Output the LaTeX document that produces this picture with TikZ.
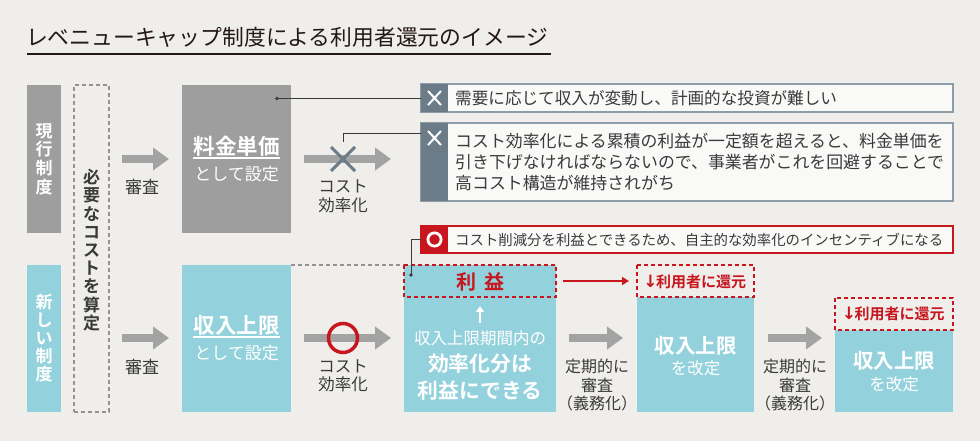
\documentclass[tikz,border=0pt]{standalone}
\usepackage{fontspec}
\setmainfont{Noto Sans CJK JP}[BoldFont={Noto Sans CJK JP Bold}]
\newfontfamily\arrowfont{DejaVu Sans}
\usetikzlibrary{arrows.meta}
\definecolor{bg}{HTML}{EFEEEA}
\definecolor{boxgray}{HTML}{9E9E9E}
\definecolor{boxblue}{HTML}{93D2DC}
\definecolor{arrgray}{HTML}{A3A3A3}
\definecolor{redc}{HTML}{C8161E}
\definecolor{slate}{HTML}{6B7B87}
\definecolor{noteborder}{HTML}{8E9CA7}
\definecolor{txt}{HTML}{3A3A3A}
\definecolor{titlec}{HTML}{231815}
\newcommand{\fsz}[2]{\fontsize{#1}{#2}\selectfont}
\newcommand{\downarr}{\makebox[11pt][c]{\arrowfont\bfseries\fontsize{17}{18}\selectfont ↓}}
\begin{document}
\begin{tikzpicture}[x=1pt,y=-1pt,
  bigarrow/.style={draw=arrgray, line width=8pt, -{Triangle[length=16pt,width=22pt]}},
  lbl/.style={text=txt, align=center, inner sep=0pt, font=\fsz{16}{18.5}},
  wtxt/.style={text=white, align=center, inner sep=0pt},
  boxnode/.style={anchor=north west, inner sep=0pt, outer sep=0pt},
  reddash/.style={draw=redc, line width=1.6pt, dash pattern=on 4pt off 3pt},
  graydash/.style={draw=gray!85, line width=1.2pt, dash pattern=on 4pt off 3pt},
  conn/.style={draw=txt, line width=0.8pt},
  notetext/.style={anchor=west, inner sep=0pt, text=txt, align=left}]
\fill[bg] (0,0) rectangle (980,441);
\useasboundingbox (0,0) rectangle (980,441);

% title
\node[anchor=west, inner sep=0pt, text=titlec, font=\fsz{21.8}{24}] (title) at (26,37) {レベニューキャップ制度による利用者還元のイメージ};
\draw[titlec, line width=2.5pt] (27,54) -- (551,54);

% left labels
\node[boxnode, fill=boxgray, minimum width=34pt, minimum height=148pt] (cur) at (27,85) {};
\node[wtxt, font=\bfseries\fsz{17}{18.6}] (curt) at (cur.center) {現\\行\\制\\度};
\node[boxnode, fill=boxblue, minimum width=34pt, minimum height=147pt] (new) at (27,265) {};
\node[wtxt, font=\bfseries\fsz{17}{18}] (newt) at (new.center) {新\\し\\い\\制\\度};
\node[boxnode, graydash, minimum width=35pt, minimum height=327pt] (need) at (74,85) {};
\node[text=txt, align=center, inner sep=0pt, font=\bfseries\fsz{17}{18.2}] (needt) at (91.5,250) {必\\要\\な\\コ\\ス\\ト\\を\\算\\定};

% current system row
\node[boxnode, fill=boxgray, minimum width=109pt, minimum height=148pt] (rate) at (182,85) {};
\node[wtxt, font=\bfseries\fsz{21.5}{24}] (ratet) at (236.5,146) {料金単価};
\draw[white, line width=2pt] (193,158) -- (280,158);
\node[wtxt, font=\fsz{17}{20}] (ratet2) at (236.5,174) {として設定};
\draw[bigarrow] (122,159) -- (169,159);
\node[lbl, font=\fsz{17}{20}] (rev1) at (142,187) {審査};
\coordinate (a2s) at (304,159);
\coordinate (a2e) at (391,159);
\draw[bigarrow] (a2s) -- (a2e);
\draw[slate, line width=3pt] (331,147) -- (355,171) (331,171) -- (355,147);
\node[lbl, font=\fsz{16.5}{19}] (eff1) at (343,196.5) {コスト\\効率化};

% notes (current)
\node[boxnode, draw=noteborder, line width=1.4pt, fill=white!65!bg, minimum width=532pt, minimum height=28pt] (note1) at (421,84) {};
\fill[slate] (421,84) rectangle (448,112);
\draw[white, line width=2pt] (428,91) -- (441,105) (428,105) -- (441,91);
\node[notetext, font=\fsz{16.6}{21}] (note1t) at (455,98.5) {需要に応じて収入が変動し、計画的な投資が難しい};

\node[boxnode, draw=noteborder, line width=1.4pt, fill=white!65!bg, minimum width=532pt, minimum height=78pt] (note2) at (421,123) {};
\fill[slate] (421,123) rectangle (448,201);
\draw[white, line width=2pt] (428,131) -- (441,145) (428,145) -- (441,131);
\node[notetext, font=\fsz{16.9}{21}] (note2t) at (455,162) {コスト効率化による累積の利益が一定額を超えると、料金単価を\\引き下げなければならないので、事業者がこれを回避することで\\高コスト構造が維持されがち};

\coordinate (dot1) at (277,98.5);
\fill[txt] (dot1) circle[radius=1.8pt];
\draw[conn] (dot1) -- (note1.west |- dot1);
\coordinate (c2) at (343,142);
\draw[conn] (c2) -- (343,133) -- (note2.west |- 0,133);

% new system row
\node[boxnode, fill=boxblue, minimum width=109pt, minimum height=147pt] (cap) at (182,265) {};
\node[wtxt, font=\bfseries\fsz{21.5}{24}] (capt) at (236.5,325) {収入上限};
\draw[white, line width=2pt] (193,337) -- (280,337);
\node[wtxt, font=\fsz{17}{20}] (capt2) at (236.5,353) {として設定};
\draw[bigarrow] (122,338) -- (169,338);
\node[lbl, font=\fsz{17}{20}] (rev2) at (142,367) {審査};
\draw[bigarrow] (304,338) -- (391,338);
\draw[redc, line width=3.5pt] (343,338) circle[radius=14.5pt];
\node[lbl, font=\fsz{16.5}{18}] (eff2) at (343,376) {コスト\\効率化};
\draw[graydash] (cap.north east) -- (404,265);

% red note
\node[boxnode, draw=redc, line width=1.4pt, fill=white!65!bg, minimum width=532pt, minimum height=27pt] (note3) at (421,226) {};
\fill[redc] (421,226) rectangle (448,253);
\draw[white, line width=2.8pt] (434.5,239.5) circle[radius=6.6pt];
\node[notetext, font=\fsz{14.4}{18}] (note3t) at (455,239.5) {コスト削減分を利益とできるため、自主的な効率化のインセンティブになる};

% profit column
\node[boxnode, fill=boxblue, minimum width=152pt, minimum height=147pt] (profit) at (404,265) {};
\draw[reddash] (404,265) rectangle (556,297);
\node[text=redc, inner sep=0pt, font=\bfseries\fsz{20}{22}] (profitt) at (480,282) {利\hspace{8pt}益};
\draw[white, line width=2.2pt, -{Triangle[length=6pt,width=8pt]}] (480,323) -- (480,306);
\node[wtxt, font=\fsz{16.5}{19}] (pt1) at (480,338) {収入上限期間内の};
\node[wtxt, font=\bfseries\fsz{20.8}{27}] (pt2) at (480,377.5) {効率化分は\\利益にできる};
\coordinate (dot3) at (411,275);
\fill[txt] (dot3) circle[radius=1.8pt];
\draw[conn] (note3.west |- 0,239.5) -- (411,239.5) -- (dot3);

% revision 1
\node[boxnode, fill=boxblue, minimum width=117pt, minimum height=115pt] (rev1box) at (637,297) {};
\draw[reddash] (637,265) rectangle (754,297);
\node[text=redc, inner sep=0pt, font=\bfseries\fsz{15}{18}] (ret1) at (695.5,282) {\downarr 利用者に還元};
\draw[redc, line width=2pt, -{Triangle[length=7pt,width=8pt]}] (563,281) -- (629,281);
\draw[bigarrow] (569,338) -- (623,338);
\node[lbl] (per1) at (597,385.5) {定期的に\\審査\\（義務化）};
\node[wtxt, font=\bfseries\fsz{20.5}{24}] (r1t) at (695.5,346) {収入上限};
\node[wtxt, font=\fsz{16.5}{20}] (r1t2) at (695.5,368) {を改定};

% revision 2
\node[boxnode, fill=boxblue, minimum width=118pt, minimum height=82pt] (rev2box) at (835,330) {};
\draw[reddash] (835,298) rectangle (953,330);
\node[text=redc, inner sep=0pt, font=\bfseries\fsz{15}{18}] (ret2) at (894,314) {\downarr 利用者に還元};
\draw[bigarrow] (768,338) -- (822,338);
\node[lbl] (per2) at (795,385.5) {定期的に\\審査\\（義務化）};
\node[wtxt, font=\bfseries\fsz{20.5}{24}] (r2t) at (894,361) {収入上限};
\node[wtxt, font=\fsz{16.5}{20}] (r2t2) at (894,384) {を改定};
\end{tikzpicture}
\end{document}
